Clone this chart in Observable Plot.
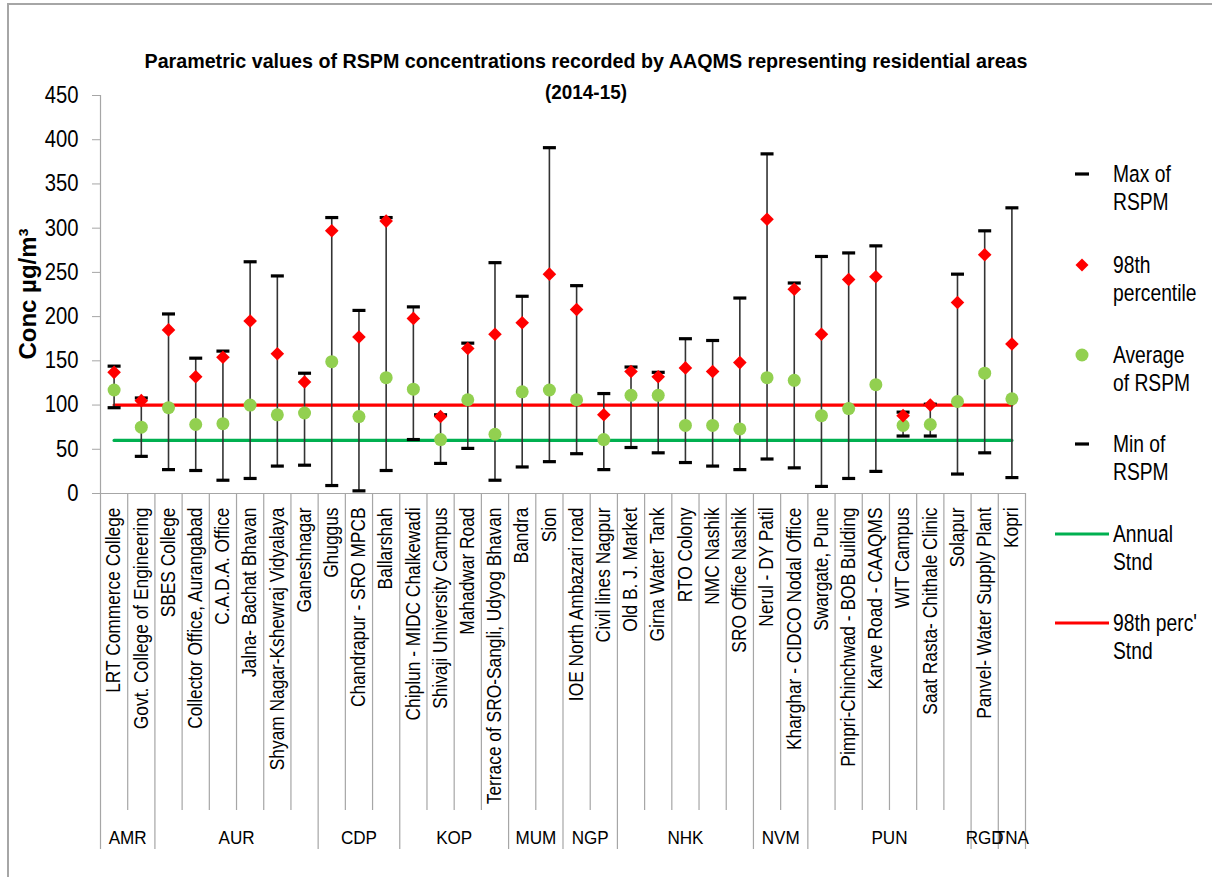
<!DOCTYPE html>
<html>
<head>
<meta charset="utf-8">
<script src="https://cdn.jsdelivr.net/npm/d3@7"></script>
<script src="https://cdn.jsdelivr.net/npm/@observablehq/plot@0.6"></script>
<style>
  body { margin: 0; background: #fff; }
  #chart { position: relative; width: 1212px; height: 877px; overflow: hidden; background: #fff; }
  #border { position: absolute; left: 7px; top: 3px; width: 1400px; height: 1000px;
            border-left: 2px solid #a6a6a6; border-top: 2px solid #a6a6a6; pointer-events: none; }
  #chart svg { position: absolute; left: 0; top: 0; }
</style>
</head>
<body>
<div id="chart"><div id="border"></div></div>
<script>
// Monitoring stations (residential areas), in plotting order
const stations = [
  "LRT Commerce College", "Govt. College of Engineering",
  "SBES College", "Collector Office, Aurangabad", "C.A.D.A. Office", "Jalna- Bachat Bhavan",
  "Shyam Nagar-Kshewraj Vidyalaya", "Ganeshnagar",
  "Ghuggus", "Chandrapur - SRO MPCB", "Ballarshah",
  "Chiplun - MIDC Chalkewadi", "Shivaji University Campus", "Mahadwar Road",
  "Terrace of SRO-Sangli, Udyog Bhavan",
  "Bandra", "Sion",
  "IOE North Ambazari road", "Civil lines Nagpur",
  "Old B. J. Market", "Girna Water Tank", "RTO Colony", "NMC Nashik", "SRO Office Nashik",
  "Nerul - DY Patil", "Kharghar - CIDCO Nodal Office",
  "Swargate, Pune", "Pimpri-Chinchwad - BOB Building", "Karve Road - CAAQMS", "WIT Campus",
  "Saat Rasta- Chithale Clinic", "Solapur",
  "Panvel- Water Supply Plant",
  "Kopri"
];
// Regional office of each station
const regions = [
  "AMR", "AMR",
  "AUR", "AUR", "AUR", "AUR", "AUR", "AUR",
  "CDP", "CDP", "CDP",
  "KOP", "KOP", "KOP", "KOP",
  "MUM", "MUM",
  "NGP", "NGP",
  "NHK", "NHK", "NHK", "NHK", "NHK",
  "NVM", "NVM",
  "PUN", "PUN", "PUN", "PUN", "PUN", "PUN",
  "RGD",
  "TNA"
];
// RSPM concentrations, µg/m³
const maxRSPM = [144, 108, 203, 153, 161, 262, 246, 136, 312, 207, 312, 211, 89, 170, 261, 223, 391,
                 235, 113, 143, 137, 175, 173, 221, 384, 238, 268, 272, 280, 92, 101, 248, 297, 323];
const perc98  = [137, 105, 185, 132, 154, 195, 158, 126, 297, 177, 308, 198, 87, 164, 180, 193, 248,
                 208, 89, 138, 132, 142, 138, 148, 310, 231, 180, 242, 245, 88, 100, 216, 270, 169];
const avgRSPM = [117, 75, 97, 78, 79, 100, 89, 91, 149, 87, 131, 118, 61, 106, 67, 115, 117,
                 106, 61, 111, 111, 77, 77, 73, 131, 128, 88, 96, 123, 77, 78, 104, 136, 107];
const minRSPM = [97, 42, 27, 26, 15, 17, 31, 32, 9, 3, 26, 61, 34, 51, 15, 30, 36,
                 45, 27, 52, 46, 35, 31, 27, 39, 29, 8, 17, 25, 65, 65, 22, 46, 18];
// Standards
const annualStnd = 60;
const perc98Stnd = 100;
const yTicks = [0, 50, 100, 150, 200, 250, 300, 350, 400, 450];

const titleLines = [
  "Parametric values of RSPM concentrations recorded by AAQMS representing residential areas",
  "(2014-15)"
];

const FONT = '"Liberation Sans", Arial, sans-serif';
const W = 1212, H = 877;
const M = {top: 95, right: 187, bottom: 384, left: 100};
const frameH = H - M.top - M.bottom;
const n = stations.length;

// one row per station; each station sits in the middle of its unit slot
const rows = stations.map((name, i) => ({
  name, region: regions[i], pos: i + 0.5,
  max: maxRSPM[i], p98: perc98[i], avg: avgRSPM[i], min: minRSPM[i]
}));

// contiguous region groups
const groups = [];
regions.forEach((r, i) => {
  const g = groups[groups.length - 1];
  if (g && g.code === r) g.end = i + 1;
  else groups.push({code: r, start: i, end: i + 1});
});
const groupEdges = [0, ...groups.map(g => g.end)];
const innerEdges = d3.range(1, n).filter(i => !groupEdges.includes(i));

// horizontal cap symbol (width = 2r) and a square diamond
const capSymbol = {draw(ctx, size) { const r = Math.sqrt(size / Math.PI); ctx.moveTo(-r, 0); ctx.lineTo(r, 0); }};
const diamondSymbol = {draw(ctx, size) {
  const r = Math.sqrt(size / Math.PI);
  ctx.moveTo(0, -r); ctx.lineTo(r, 0); ctx.lineTo(0, r); ctx.lineTo(-r, 0); ctx.closePath();
}};

const GRID = "#a6a6a6";

const plot = Plot.plot({
  width: W, height: H,
  marginTop: M.top, marginRight: M.right, marginBottom: M.bottom, marginLeft: M.left,
  x: {domain: [0, n], axis: null},
  y: {domain: [0, 450]},
  style: {fontFamily: FONT, background: "transparent", overflow: "visible", color: "#000"},
  marks: [
    // station separators below the axis
    Plot.ruleX(innerEdges, {x: d => d, stroke: GRID, strokeWidth: 1.2, insetTop: frameH, insetBottom: -317}),
    Plot.ruleX(groupEdges, {x: d => d, stroke: GRID, strokeWidth: 1.2, insetTop: frameH, insetBottom: -356}),
    // axes
    Plot.ruleX([0], {y1: 0, y2: 450, stroke: GRID, strokeWidth: 1.2}),
    Plot.ruleY([0], {x1: 0, x2: n, stroke: GRID, strokeWidth: 1.2}),
    Plot.axisY(yTicks, {tickSize: 8, tickPadding: 14, fontSize: 23, stroke: GRID, label: null}),
    // standards
    Plot.line(rows, {x: "pos", y: () => annualStnd, stroke: "#00b050", strokeWidth: 3.2}),
    Plot.line(rows, {x: "pos", y: () => perc98Stnd, stroke: "#ff0000", strokeWidth: 3.2}),
    // min–max range
    Plot.ruleX(rows, {x: "pos", y1: "min", y2: "max", stroke: "#333", strokeWidth: 1.6}),
    Plot.dot(rows, {x: "pos", y: "max", symbol: capSymbol, r: 6.5, stroke: "#000", strokeWidth: 3.2, fill: "none"}),
    Plot.dot(rows, {x: "pos", y: "min", symbol: capSymbol, r: 6.5, stroke: "#000", strokeWidth: 3.2, fill: "none"}),
    // average and 98th percentile
    Plot.dot(rows, {x: "pos", y: "avg", r: 6.5, fill: "#92d050", stroke: "none"}),
    Plot.dot(rows, {x: "pos", y: "p98", symbol: diamondSymbol, r: 6.8, fill: "#ff0000", stroke: "none"}),
    // station names
    Plot.text(rows, {x: "pos", text: "name", frameAnchor: "bottom", dy: 14, rotate: -90,
                     textAnchor: "end", lineAnchor: "middle", fontSize: 19.5, fill: "#000"}),
    // region codes
    Plot.text(groups, {x: d => (d.start + d.end) / 2, text: "code", frameAnchor: "bottom", dy: 344,
                       lineAnchor: "middle", fontSize: 19, fill: "#000"})
  ]
});

document.getElementById("chart").appendChild(plot);
const svg = d3.select(plot);

// condensed text: append a scale along the text direction to each matching text's transform
function condense(test, k) {
  svg.selectAll("text").filter(function () { return test(this); }).each(function () {
    const t = this.getAttribute("transform") || "";
    this.setAttribute("transform", `${t} scale(${k},1)`);
  });
}
const stationSet = new Set(stations);
const regionSet = new Set(regions);
const tickSet = new Set(yTicks.map(String));
condense(el => stationSet.has(el.textContent), 0.89);
condense(el => regionSet.has(el.textContent), 0.9);
condense(el => tickSet.has(el.textContent), 0.88);

// title
const titleG = svg.append("g").style("font-family", FONT).style("font-weight", "bold")
  .style("font-size", "21px").attr("text-anchor", "middle");
titleG.append("text").attr("x", 586).attr("y", 67.5)
  .attr("textLength", 883).attr("lengthAdjust", "spacingAndGlyphs").text(titleLines[0]);
titleG.append("text").attr("transform", "translate(586,99) scale(0.9,1)").text(titleLines[1]);

// y-axis label
svg.append("text")
  .attr("transform", "translate(35.5,294) rotate(-90)")
  .attr("text-anchor", "middle")
  .style("font-family", FONT).style("font-weight", "bold").style("font-size", "24px")
  .text("Conc µg/m³");

// legend
const legend = [
  {lines: ["Max of", "RSPM"], kind: "cap", y: 174},
  {lines: ["98th", "percentile"], kind: "diamond", y: 265},
  {lines: ["Average", "of RSPM"], kind: "circle", y: 355},
  {lines: ["Min of", "RSPM"], kind: "cap", y: 444},
  {lines: ["Annual", "Stnd"], kind: "line", color: "#00b050", y: 534},
  {lines: ["98th perc'", "Stnd"], kind: "line", color: "#ff0000", y: 623}
];
const lg = svg.append("g");
const symX = 1082;
legend.forEach(item => {
  const g = lg.append("g");
  if (item.kind === "cap") {
    g.append("line").attr("x1", symX - 7).attr("x2", symX + 7).attr("y1", item.y).attr("y2", item.y)
      .attr("stroke", "#000").attr("stroke-width", 3.2);
  } else if (item.kind === "diamond") {
    const r = 6.5;
    g.append("path").attr("d", `M${symX},${item.y - r}L${symX + r},${item.y}L${symX},${item.y + r}L${symX - r},${item.y}Z`)
      .attr("fill", "#ff0000");
  } else if (item.kind === "circle") {
    g.append("circle").attr("cx", symX).attr("cy", item.y).attr("r", 6.5).attr("fill", "#92d050");
  } else {
    g.append("line").attr("x1", 1055).attr("x2", 1109).attr("y1", item.y).attr("y2", item.y)
      .attr("stroke", item.color).attr("stroke-width", 3.2);
  }
  g.selectAll("text").data(item.lines).join("text")
    .attr("transform", (d, i) => `translate(1113,${item.y + i * 27.5}) scale(0.82,1)`)
    .attr("dy", "0.35em")
    .attr("text-anchor", "start")
    .style("font-family", FONT).style("font-size", "23.5px")
    .text(d => d);
});
</script>
</body>
</html>
